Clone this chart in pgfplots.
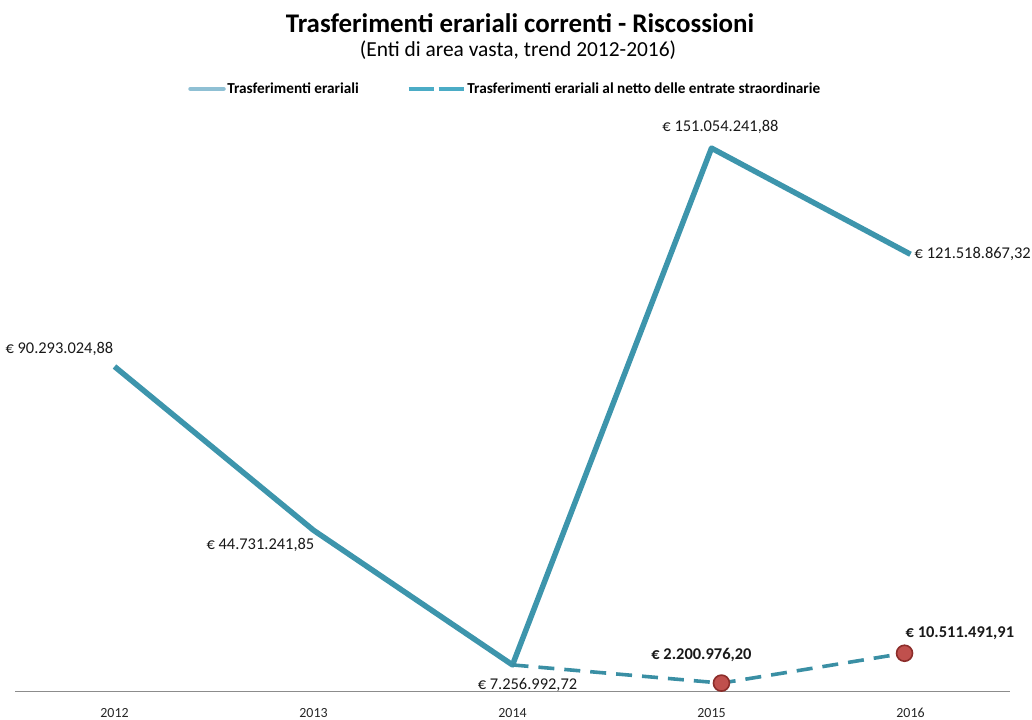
\documentclass[border=0pt]{standalone}
\usepackage{pgfplots}
\pgfplotsset{compat=1.18}
\usepackage{fontspec}
\setmainfont{Carlito}
\definecolor{lineblue}{HTML}{3D95AC}
\definecolor{legsolid}{HTML}{8FC0D4}
\definecolor{dashblue}{HTML}{3A8FA4}
\definecolor{legdash}{HTML}{4BACC6}
\definecolor{mred}{HTML}{C0504D}
\definecolor{mredd}{HTML}{8C2D2A}
\begin{document}
\begin{tikzpicture}
\useasboundingbox (0bp,0bp) rectangle (1032bp,-720bp);
\node[font=\bfseries\fontsize{27}{30}\selectfont] at (520bp,-23bp) {Trasferimenti erariali correnti - Riscossioni};
\node[font=\fontsize{21.5}{24}\selectfont] at (518bp,-50bp) {(Enti di area vasta, trend 2012-2016)};
\begin{axis}[
  at={(15bp,-691bp)}, anchor=south west,
  scale only axis, width=995bp, height=575bp,
  xmin=-0.5, xmax=4.5, ymin=0, ymax=160e6,
  axis x line*=bottom, axis y line=none,
  x axis line style={draw=black!45, line width=0.8bp},
  xtick={0,1,2,3,4}, xticklabels={2012,2013,2014,2015,2016},
  major tick length=0pt,
  xticklabel style={font=\fontsize{14}{16}\selectfont, text=black!85, yshift=-14bp},
  clip=false,
  legend columns=2,
  legend style={at={(0.4925,1.047)}, anchor=center, draw=none, fill=none,
    font=\bfseries\fontsize{15.3}{17}\selectfont,
    nodes={inner xsep=1.5bp},
    /tikz/every even column/.append style={column sep=46bp}},
]
\addplot[lineblue, line width=5.5bp, line join=round,
  legend image code/.code={\draw[legsolid, line width=4.5bp, line cap=round] (0bp,0bp) -- (33bp,0bp);}]
  coordinates {(0,90293024.88) (1,44731241.85) (2,7256992.72) (3,151054241.88) (4,121518867.32)};
\addlegendentry{Trasferimenti erariali}
\addplot[dashblue, line width=3.6bp, dash pattern=on 16bp off 10bp, mark=*, mark indices={2,3},
  mark options={solid, fill=mred, draw=mredd, line width=1.6bp}, mark size=8bp,
  legend image code/.code={\draw[legdash, line width=4.5bp, dash pattern=on 25bp off 5bp] (0bp,0bp) -- (55bp,0bp);}]
  coordinates {(2,7256992.72) (3.05,2200976.20) (3.97,10511491.91)};
\addlegendentry{Trasferimenti erariali al netto delle entrate straordinarie}
\begin{scope}[every node/.style={font=\fontsize{16.5}{18}\selectfont, text=black!90, inner sep=1bp}]
\node[anchor=south east, yshift=10bp] at (axis cs:0,90293024.88) {€ 90.293.024,88};
\node[anchor=north east, xshift=2bp, yshift=-7bp] at (axis cs:1,44731241.85) {€ 44.731.241,85};
\node[anchor=north, xshift=15bp, yshift=-12bp] at (axis cs:2,7256992.72) {€ 7.256.992,72};
\node[anchor=south, xshift=9bp, yshift=13bp] at (axis cs:3,151054241.88) {€ 151.054.241,88};
\node[anchor=west, xshift=3bp] at (axis cs:4,121518867.32) {€ 121.518.867,32};
\node[anchor=south, xshift=-20bp, yshift=20bp, font=\bfseries\fontsize{16.5}{18}\selectfont] at (axis cs:3.05,2200976.20) {€ 2.200.976,20};
\node[anchor=south west, xshift=0bp, yshift=12bp, font=\bfseries\fontsize{16.5}{18}\selectfont] at (axis cs:3.97,10511491.91) {€ 10.511.491,91};
\end{scope}
\end{axis}
\end{tikzpicture}
\end{document}
